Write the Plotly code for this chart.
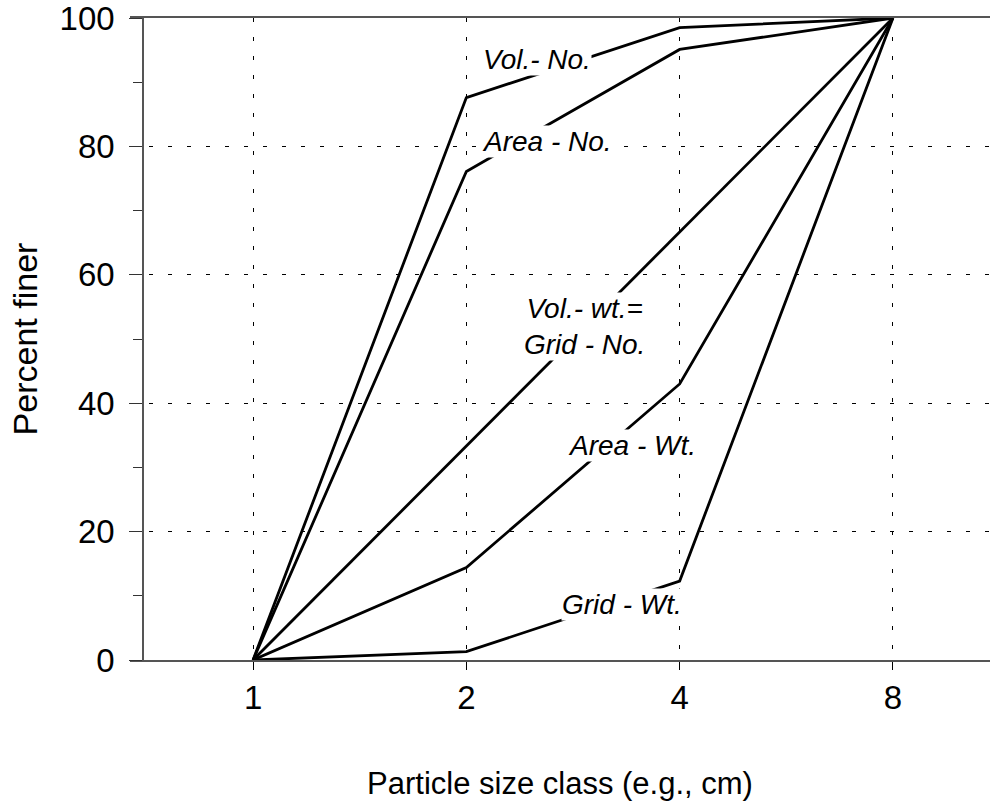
import numpy as np
import plotly.graph_objects as go

# Particle size classes (x) and cumulative percent finer for each method
sizeClass = [1, 2, 4, 8]
volNo = [0, 87.6, 98.5, 100]
areaNo = [0, 76.1, 95.1, 100]
volWtGridNo = [0, 33.3, 66.7, 100]
areaWt = [0, 14.4, 43.0, 100]
gridWt = [0, 1.3, 12.3, 100]

seriesNames = ["Vol.- No.", "Area - No.", "Vol.- wt.=<br>Grid - No.", "Area - Wt.", "Grid - Wt."]
seriesValues = [volNo, areaNo, volWtGridNo, areaWt, gridWt]

# label anchor points (size, percent)
labelX = [2.52, 2.60, 2.94, 3.43, 3.32]
labelY = [93.6, 80.8, 52.0, 33.4, 8.6]

font = "Liberation Sans, Arial, sans-serif"

fig = go.Figure()
for name, vals in zip(seriesNames, seriesValues):
    fig.add_trace(go.Scatter(x=sizeClass, y=vals, mode="lines", name=name,
                             line=dict(color="black", width=2.8), showlegend=False))

for name, lx, ly in zip(seriesNames, labelX, labelY):
    fig.add_annotation(x=np.log10(lx), y=ly, text=name, showarrow=False,
                       font=dict(family=font, size=28, color="black", style="italic"),
                       bgcolor="white", borderpad=0)

grid = dict(showgrid=True, gridcolor="black", gridwidth=1, griddash="4px,15px")

fig.update_layout(
    width=990, height=810,
    margin=dict(l=0, r=0, t=18, b=150),
    paper_bgcolor="white", plot_bgcolor="white",
    font=dict(family=font, size=33, color="black"),
    xaxis=dict(type="log", range=[np.log10(2 ** -0.577), np.log10(2 ** 3.455)],
               domain=[130 / 990, 1], tickvals=sizeClass, ticktext=[str(v) for v in sizeClass],
               ticks="outside", ticklen=8, tickcolor="black", tickwidth=1,
               showline=True, linecolor="#555", linewidth=1.5, mirror=True,
               zeroline=False, automargin=False, ticklabeloverflow="allow",
               title=dict(text="Particle size class (e.g., cm)", standoff=57, font=dict(size=31)),
               **grid),
    yaxis=dict(range=[0, 100], anchor="free", position=143 / 990, tickvals=[0, 20, 40, 60, 80, 100],
               ticks="outside", ticklen=13, tickcolor="#333", tickwidth=1, ticklabelstandoff=8,
               minor=dict(tickvals=[10, 30, 50, 70, 90], ticks="outside", ticklen=9, tickcolor="#333", showgrid=False),
               showline=True, linecolor="#555", linewidth=1.5, zeroline=False, automargin=False,
               ticklabeloverflow="allow",
               title=dict(text="Percent finer", standoff=11, font=dict(size=34)), **grid),
    yaxis2=dict(range=[0, 100], overlaying="y", anchor="free", position=143 / 990,
                tickvals=[0, 20, 40, 60, 80, 100], showticklabels=False,
                ticks="inside", ticklen=13, tickcolor="#333", tickwidth=1,
                minor=dict(tickvals=[10, 30, 50, 70, 90], ticks="inside", ticklen=9, tickcolor="#333"),
                showgrid=False, showline=False, zeroline=False, automargin=False),
)

# drop the default 8px page margin so the figure sits at the window corner
fig.write_html("out.html", config={"displayModeBar": False},
               post_script="document.body.style.margin = '0';")
